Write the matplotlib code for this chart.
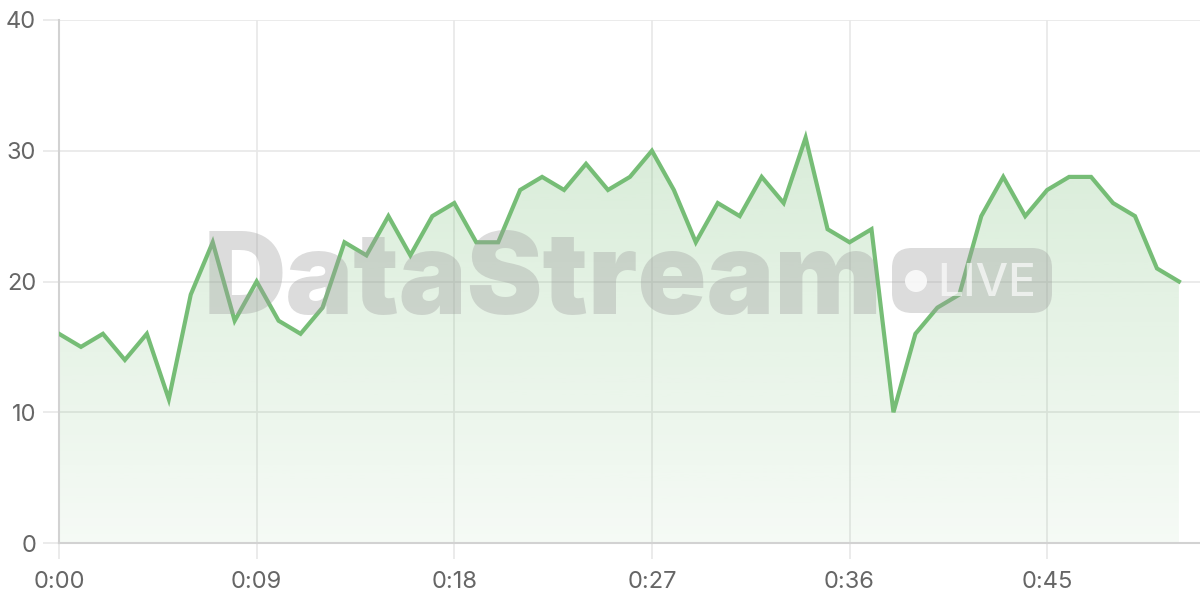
import matplotlib
matplotlib.use("Agg")
import matplotlib.pyplot as plt
import numpy as np
from matplotlib.patches import FancyBboxPatch, Circle

# data: one reading per second
seconds = list(range(52))
values = [16, 15, 16, 14, 16, 11, 19, 23, 17, 20,
          17, 16, 18, 23, 22, 25, 22, 25, 26, 23,
          23, 27, 28, 27, 29, 27, 28, 30, 27, 23,
          26, 25, 28, 26, 31, 24, 23, 24, 10, 16,
          18, 19, 25, 28, 25, 27, 28, 28, 26, 25,
          21, 20]
x_ticks = [0, 9, 18, 27, 36, 45]
x_labels = ["0:00", "0:09", "0:18", "0:27", "0:36", "0:45"]
y_ticks = [0, 10, 20, 30, 40]

line_color = "#76bd76"
grid_color = "#e8e8e8"
text_color = "#666666"

plt.rcParams['font.family'] = ['Inter', 'DejaVu Sans']

fig = plt.figure(figsize=(12, 6), dpi=100)
ax = fig.add_axes([59 / 1200, 57 / 600, 1141 / 1200, 523 / 600])

ax.set_xlim(0, 51.96)
ax.set_ylim(0, 40)

# gradient fill under the line
poly = ax.fill_between(seconds, values, 0, color="none", lw=0)
grad = np.zeros((256, 1, 4))
grad[:, 0, :3] = matplotlib.colors.to_rgb(line_color)
grad[:, 0, 3] = np.linspace(0.07, 0.28, 256)
img = ax.imshow(grad, aspect="auto", origin="lower",
                extent=[0, seconds[-1], 0, max(values)], zorder=1)
img.set_clip_path(poly.get_paths()[0], transform=ax.transData)

ax.plot(seconds, values, color=line_color, lw=3, zorder=5,
        solid_joinstyle="miter")

# axes styling
ax.set_xticks(x_ticks)
ax.set_xticklabels(x_labels)
ax.set_yticks(y_ticks)
ax.grid(True, color=grid_color, lw=1.2, zorder=0)
ax.set_axisbelow(True)
for side in ["top", "right"]:
    ax.spines[side].set_visible(False)
for side in ["left", "bottom"]:
    ax.spines[side].set_color("#d2d2d2")
    ax.spines[side].set_linewidth(1.5)
ax.tick_params(axis="both", length=11.5, width=1.2, color=grid_color,
               labelsize=17, labelcolor=text_color)
ax.tick_params(axis="y", pad=5)
ax.tick_params(axis="x", pad=9)

# watermark
wm = "#9e9e9e"
fig.text(204 / 1200, 1 - 314 / 600, "DataStream", fontsize=82,
         fontweight=900, color=wm, alpha=0.36, ha="left",
         va="baseline", zorder=3)
badge = FancyBboxPatch((892, 600 - 313), 160, 65,
                       boxstyle="round,pad=0,rounding_size=20",
                       transform=None, facecolor=wm,
                       edgecolor="none", alpha=0.36, zorder=3)
fig.add_artist(badge)
dot = Circle((916, 600 - 281), 11, transform=None, facecolor="white",
             alpha=0.8, edgecolor="none", zorder=4)
fig.add_artist(dot)
fig.text(937 / 1200, 1 - 296 / 600, "LIVE", fontsize=33, color="white",
         fontweight="medium", alpha=0.65, ha="left", va="baseline",
         zorder=4)

fig.savefig("out.png", dpi=100)
